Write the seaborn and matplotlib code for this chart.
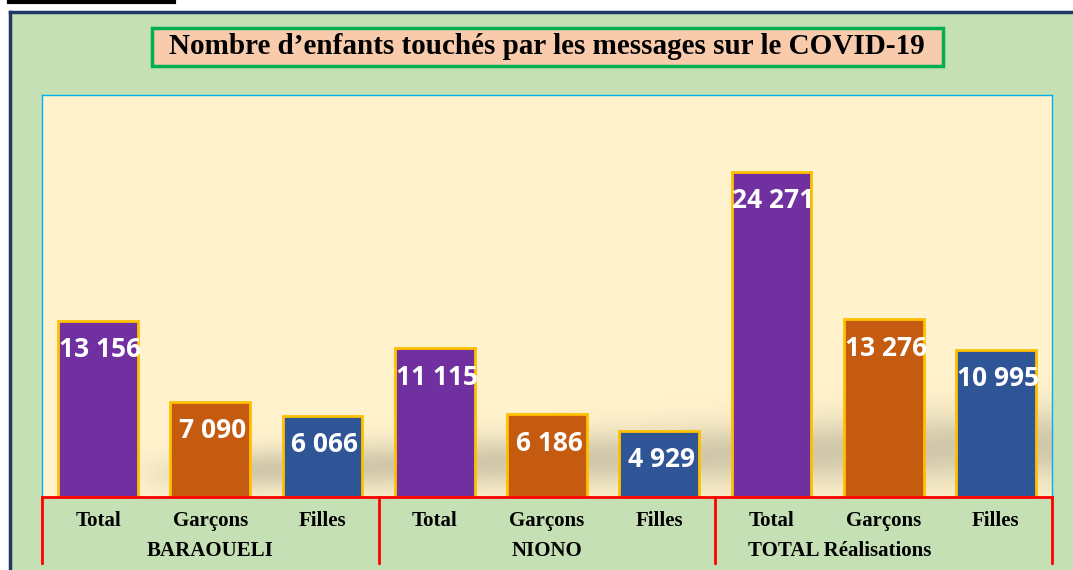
import numpy as np
import pandas as pd
import seaborn as sns
import matplotlib.pyplot as plt
import matplotlib.transforms as mtransforms
from matplotlib.patches import Rectangle
from matplotlib.lines import Line2D

# données
groupes = ['BARAOUELI', 'NIONO', 'TOTAL Réalisations']
sous_cat = ['Total', 'Garçons', 'Filles']
baraoueli = [13156, 7090, 6066]
niono = [11115, 6186, 4929]
total_realisations = [24271, 13276, 10995]

couleurs = {'Total': '#7030A0', 'Garçons': '#C55A11', 'Filles': '#2F5597'}

valeurs = baraoueli + niono + total_realisations
df = pd.DataFrame({
    'cle': [f'{g}|{s}' for g in groupes for s in sous_cat],
    'sous': sous_cat * len(groupes),
    'valeur': valeurs,
})

W, H = 1073, 570
fig = plt.figure(figsize=(W / 100, H / 100), dpi=100)
fig.patch.set_facecolor('white')

# fond vert + bordure bleu foncé
fig.patches.append(Rectangle((10 / W, 0), 1 - 10 / W, (H - 12) / H, transform=fig.transFigure,
                             facecolor='#C5E0B4', edgecolor='none', zorder=-2))
fig.lines.append(Line2D([10 / W, 1], [(H - 12) / H] * 2, transform=fig.transFigure, color='#1F3864', lw=2.5))
fig.lines.append(Line2D([10 / W] * 2, [0, (H - 12) / H], transform=fig.transFigure, color='#1F3864', lw=2.5))
fig.lines.append(Line2D([9 / W, 174 / W], [(H - 2) / H] * 2, transform=fig.transFigure, color='black', lw=3))

# cadre du titre
fig.patches.append(Rectangle((152 / W, (H - 66) / H), 791 / W, 38 / H, transform=fig.transFigure,
                             facecolor='#F8CBAD', edgecolor='#00B050', lw=2.5, zorder=1))
fig.text(547 / W, (H - 47) / H, 'Nombre d\u2019enfants touchés par les messages sur le COVID-19',
         ha='center', va='center', fontsize=21, fontweight='bold', family='Liberation Serif', zorder=2)

ax = fig.add_axes([42 / W, 73 / H, 1010 / W, 402 / H])
ax.set_facecolor('#FFF2CC')

# ombre diffuse derrière les barres
xs = np.linspace(0, 1, 500)
ys = np.linspace(0, 0.3, 150)
X, Y = np.meshgrid(xs, ys)
centre = 0.05 + 0.08 * X
epais = 0.04 + 0.05 * X
alpha = 0.4 * np.exp(-((Y - centre) / epais) ** 2) * np.clip((X - 0.08) / 0.12, 0, 1)
img = np.zeros(X.shape + (4,))
img[..., 0], img[..., 1], img[..., 2] = 0.55, 0.53, 0.47
img[..., 3] = alpha
ax.imshow(img, extent=(0, 1, 0, 0.3), transform=ax.transAxes, origin='lower', aspect='auto', zorder=0.5)

sns.barplot(data=df, x='cle', y='valeur', hue='sous', palette=couleurs, dodge=False, width=0.71,
            saturation=1, edgecolor='#FFC000', linewidth=2, legend=False, ax=ax, zorder=2)

for i, v in enumerate(valeurs):
    ax.annotate(f'{v:,}'.replace(',', ' '), (i, v), xytext=(2, -29), textcoords='offset pixels',
                ha='center', va='center', color='white', fontsize=19, fontweight='bold',
                family='Open Sans', zorder=3)

ax.set_xlim(-0.5, 8.5)
ax.set_ylim(0, 30000)
ax.set_yticks([])
ax.set_xlabel('')
ax.set_ylabel('')
ax.set_xticks(range(9))
ax.set_xticklabels(sous_cat * 3, fontsize=15, fontweight='bold', family='Liberation Serif')
ax.tick_params(axis='x', length=0, pad=10)

for s in ['left', 'right', 'top']:
    ax.spines[s].set_color('#00B0F0')
    ax.spines[s].set_linewidth(1)
ax.spines['bottom'].set_color('#FF0000')
ax.spines['bottom'].set_linewidth(2)

trans = mtransforms.blended_transform_factory(ax.transData, ax.transAxes)
for xv in [-0.5, 2.5, 5.5, 8.5]:
    ax.plot([xv, xv], [0, -0.165], transform=trans, color='#FF0000', lw=2, clip_on=False)

for xg, nom in zip([1, 4, 6.61], groupes):
    ax.text(xg, -0.135, nom, transform=trans, ha='center', va='center', fontsize=15,
            fontweight='bold', family='Liberation Serif')

fig.savefig('out.png', dpi=100)
